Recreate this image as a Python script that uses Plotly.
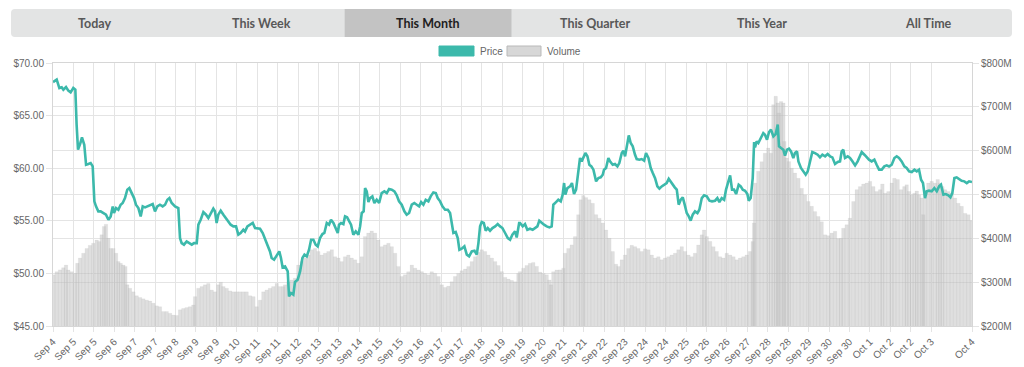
import plotly.graph_objects as go

# ---------------- data ----------------
tab_labels = ["Today", "This Week", "This Month", "This Quarter", "This Year", "All Time"]
selected_tab = "This Month"

tick_labels = ["Sep 4", "Sep 5", "Sep 5", "Sep 6", "Sep 7", "Sep 7", "Sep 8", "Sep 9", "Sep 9",
               "Sep 10", "Sep 11", "Sep 11", "Sep 12", "Sep 13", "Sep 13", "Sep 14", "Sep 15",
               "Sep 15", "Sep 16", "Sep 17", "Sep 17", "Sep 18", "Sep 19", "Sep 19", "Sep 20",
               "Sep 21", "Sep 21", "Sep 22", "Sep 23", "Sep 24", "Sep 24", "Sep 25", "Sep 26",
               "Sep 26", "Sep 27", "Sep 28", "Sep 28", "Sep 29", "Sep 30", "Sep 30", "Oct 1",
               "Oct 2", "Oct 2", "Oct 3", "Oct 4"]
tick_hours = [16 * i for i in range(44)] + [720]   # hours since Sep 4 00:00

# price: hours since start, USD
price_hours = [
    0, 2.9, 5.0, 6.8, 8.1, 10.2, 12.0, 13.8, 15.9, 17.5, 18.5, 19.6, 21.2, 22.7, 24.5, 25.9, 27.7,
    29.5, 31.1, 32.4, 33.7, 35.5, 37.3, 39.4, 41.5, 43.4, 45.2, 46.8, 47.8, 49.4, 51.2, 53.0, 54.6,
    56.4, 58.2, 59.8, 61.6, 63.5, 65.0, 66.9, 68.7, 70.3, 72.1, 73.9, 76.0, 78.1, 79.9, 81.7, 83.8,
    85.9, 87.8, 89.6, 91.2, 93.0, 95.6, 98.2, 99.5, 100.8, 102.6, 104.7, 106.8, 108.7, 110.5, 112.6,
    113.9, 115.7, 117.8, 119.9, 121.7, 123.5, 125.6, 126.9, 128.2, 129.5, 131.4, 133.5, 135.6, 137.4,
    139.2, 141.3, 143.4, 145.2, 147.0, 149.1, 150.4, 152.3, 154.4, 156.5, 158.3, 160.1, 162.2, 164.3,
    166.1, 167.9, 170.0, 171.3, 173.2, 175.3, 177.3, 178.6, 179.9,
    181.8, 183.9, 184.9, 186.5, 188.3, 189.6, 191.7, 193.6, 195.4, 197.0, 198.8, 200.6, 202.2, 204.0,
    205.8, 207.4, 209.2, 211.1, 212.6, 214.5, 216.3, 217.8, 219.7, 221.5, 223.1, 224.1, 225.7, 227.5,
    228.8, 230.4, 232.0, 233.5, 235.3, 237.2, 239.3, 240.6, 241.9, 243.4, 244.5, 245.8, 247.1, 248.4,
    250.2, 251.8, 253.6, 255.5, 257.5, 259.6, 261.5, 263.3, 265.4, 267.5, 269.3, 271.1, 273.2, 275.3,
    277.1, 279.0, 281.1, 283.1, 285.0, 286.8, 288.4, 290.2, 292.0, 294.1, 295.9, 298.0, 299.9, 301.4,
    303.3, 305.1, 307.2, 309.3, 311.1, 312.4, 313.7, 315.5, 317.1, 318.4, 320.2, 322.3, 324.2, 326.0,
    328.1, 330.2, 332.0, 333.3, 334.6, 335.9, 337.5, 339.0, 340.6, 342.4, 344.3, 346.4, 348.4, 350.3,
    352.1, 354.2, 356.3, 358.1, 359.9, 362.0, 363.3, 365.2,
    365.9, 368.0, 369.8, 371.6, 373.7, 375.8, 377.7, 379.5, 381.0, 382.9, 384.7, 386.8, 388.9, 390.7,
    392.0, 394.1, 395.9, 397.8, 399.3, 400.4, 401.4, 403.0, 405.1, 406.6, 408.2, 409.8, 411.6, 412.9,
    414.2, 415.5, 417.1, 418.7, 420.2, 421.8, 423.4, 425.5, 427.3, 429.1, 430.7, 431.7, 433.3, 435.1,
    436.4, 438.5, 440.3, 442.2, 443.7, 445.6, 446.9, 448.2, 449.5, 451.1, 452.6, 454.2, 456.0, 457.3,
    459.4, 461.2, 463.1, 464.6, 466.5, 468.3, 469.9, 471.7, 473.5, 475.1, 476.9, 478.7, 480.8, 482.4,
    484.0, 485.5, 487.1, 488.7, 490.2, 491.8, 493.4, 494.9, 496.5, 498.1, 499.6, 501.2, 503.0, 504.9,
    506.4, 508.3, 510.1, 512.2, 514.3, 516.3, 518.7, 520.5, 522.1, 523.9, 525.8, 527.3, 528.9, 530.5,
    532.0, 533.6, 535.2, 537.2, 538.8, 540.4, 542.2, 544.0, 545.1, 546.6, 548.2, 549.3,
    550.0, 551.3, 552.6, 554.7, 556.5, 557.8, 559.4, 561.0, 562.5, 564.4, 566.2, 567.8, 568.8, 570.4,
    572.2, 573.5, 575.1, 576.6, 578.2, 580.0, 581.3, 582.9, 584.0, 586.0, 587.9, 589.7, 591.3, 593.1,
    594.9, 597.0, 599.1, 600.9, 602.8, 604.9, 606.9, 608.8, 610.6, 612.7, 614.8, 616.6, 617.9, 619.2,
    620.5, 622.6, 624.4, 626.3, 628.4, 630.4, 632.3, 633.6, 635.7, 637.5, 639.3, 641.4, 643.5, 645.3,
    647.2, 649.3, 651.3, 653.2, 655.0, 657.1, 659.2, 661.0, 662.8, 664.9, 667.0, 668.8, 670.7, 672.8,
    674.9, 676.7, 678.5, 680.1, 681.6, 683.2, 684.5, 686.3, 688.4, 690.5, 692.4, 694.2, 695.7, 697.6,
    699.4, 701.5, 703.1, 704.6, 706.2, 708.0, 709.9, 711.9, 714.0, 715.9, 717.7, 720.0,
]
price = [
    68.19, 68.42, 67.62, 67.69, 67.46, 67.72, 67.37, 67.21, 67.62, 67.46, 64.14, 61.76, 62.30, 62.93,
    62.23, 60.33, 60.40, 60.49, 60.17, 56.85, 56.37, 55.90, 55.90, 55.74, 55.58, 55.10, 55.42, 56.37,
    55.74, 56.21, 56.05, 56.53, 56.69, 57.16, 57.96, 58.11, 57.64, 57.16, 56.53, 56.21, 55.42, 56.37,
    56.28, 56.37, 56.53, 56.59, 55.90, 56.37, 56.53, 56.37, 56.53, 57.00, 57.16, 56.69, 56.37, 56.21,
    53.36, 52.88, 52.73, 53.04, 52.88, 52.73, 52.88, 52.88, 54.63, 55.10, 55.83, 55.58, 55.26, 55.74,
    56.15, 55.90, 54.79, 55.58, 55.96, 55.58, 55.26, 54.94, 54.63, 54.47, 54.47, 53.68, 53.84, 54.15,
    53.99, 54.47, 54.63, 54.79, 54.31, 54.31, 54.25, 53.84, 53.20, 52.73, 52.09, 51.46, 51.30, 51.78,
    52.09, 51.46, 50.57,
    50.67, 50.19, 47.81, 48.13, 47.97, 49.18, 49.40, 50.19, 51.46, 51.78, 51.62, 52.25, 53.20, 53.20,
    52.73, 52.57, 53.36, 53.74, 53.84, 54.79, 54.63, 55.10, 54.79, 54.31, 53.84, 54.63, 54.79, 54.69,
    55.42, 55.33, 54.94, 54.63, 53.68, 53.99, 53.68, 54.47, 55.74, 55.90, 58.11, 57.80, 56.78, 57.16,
    57.32, 56.69, 57.00, 56.69, 57.64, 57.80, 57.64, 58.02, 57.96, 57.80, 57.42, 56.85, 56.53, 55.90,
    55.58, 55.74, 56.53, 56.69, 56.53, 56.37, 56.78, 56.53, 57.00, 56.85, 57.32, 57.70, 57.64, 57.16,
    56.85, 56.37, 56.05, 56.05, 55.74, 54.94, 53.84, 53.93, 53.36, 52.25, 52.35, 52.57, 51.78, 51.62,
    52.09, 52.16, 51.78, 52.88, 54.47, 54.88, 54.79, 54.06, 54.31, 54.06, 54.31, 54.47, 54.69, 54.47,
    54.31, 53.84, 53.36, 53.20, 53.68, 53.99, 53.42, 54.79,
    54.79, 54.47, 54.69, 54.15, 54.25, 54.15, 54.31, 54.47, 55.01, 54.79, 54.63, 54.47, 54.37, 54.47,
    56.53, 56.78, 57.00, 56.85, 57.48, 58.59, 57.48, 58.11, 58.27, 58.59, 57.54, 57.96, 59.54, 60.97,
    60.65, 61.03, 61.44, 61.13, 60.33, 60.17, 59.86, 58.75, 59.06, 59.13, 59.38, 59.86, 60.02, 60.97,
    60.65, 60.33, 60.40, 60.17, 60.49, 61.44, 61.66, 61.13, 61.92, 63.12, 62.39, 62.08, 61.28, 60.87,
    60.81, 60.87, 60.71, 61.44, 60.97, 60.02, 59.54, 59.06, 58.27, 58.05, 58.27, 58.43, 58.59, 59.00,
    58.68, 58.49, 58.18, 57.96, 56.53, 57.00, 57.23, 56.53, 55.74, 55.42, 55.01, 55.58, 55.90, 55.74,
    56.05, 57.16, 57.42, 57.32, 56.91, 56.85, 56.91, 57.16, 56.78, 57.16, 57.00, 57.96, 58.75, 59.32,
    57.96, 57.96, 57.54, 58.43, 58.27, 57.96, 57.86, 57.54, 56.91, 57.16, 59.06, 62.49,
    61.98, 62.55, 62.39, 62.87, 63.34, 63.19, 62.71, 63.44, 63.66, 63.03, 63.25, 64.14, 62.08, 61.92,
    61.76, 61.19, 61.76, 61.85, 61.60, 60.97, 61.44, 61.60, 60.65, 60.02, 59.70, 59.38, 59.70, 60.65,
    61.54, 61.44, 61.28, 61.03, 61.28, 61.13, 61.35, 61.13, 61.03, 60.40, 60.59, 60.65, 61.60, 61.76,
    60.97, 61.13, 60.97, 60.65, 60.27, 60.65, 61.13, 61.54, 61.28, 61.03, 60.81, 60.65, 60.81, 60.33,
    59.86, 59.86, 60.17, 60.27, 60.17, 60.33, 60.97, 61.13, 60.97, 60.65, 60.17, 60.02, 59.70, 59.64,
    59.86, 59.70, 59.86, 58.91, 58.59, 57.16, 57.80, 57.86, 57.80, 58.11, 57.80, 58.27, 58.43, 57.48,
    57.54, 57.42, 57.23, 57.64, 59.06, 59.13, 59.00, 58.81, 58.75, 58.59, 58.75, 58.68,
]

# volume: hours since start, millions of USD
volume_hours = [
    0.3, 2.9, 5.5, 8.1, 10.2, 12.0, 14.6, 17.2, 19.1, 21.2, 23.8, 26.4, 29.0, 31.6, 34.2, 36.3, 38.1,
    40.0, 41.5, 43.4, 45.2, 47.3, 49.4, 51.2, 53.0, 55.1, 56.7, 58.2, 60.3, 63.0, 65.6, 68.2, 70.8,
    73.4, 76.0, 78.6, 81.2, 83.8, 86.5, 89.1, 91.7, 94.3, 96.9, 99.5, 102.1, 104.7, 107.3, 110.0,
    111.3, 113.9, 116.5, 119.1, 121.7, 124.3, 126.9, 129.5, 131.4, 133.5, 136.1, 138.7, 141.3, 143.9,
    146.5, 149.1, 151.7, 154.4, 157.0, 159.6, 162.2, 164.8, 167.4, 170.0, 172.6, 175.3, 177.9, 180.5,
    181.8, 184.4, 187.0, 189.6, 192.2, 194.9, 197.5, 200.1, 202.7, 205.3, 207.9, 210.5, 213.1, 215.8,
    218.4, 221.0, 223.6, 226.2, 228.8, 231.4, 234.0, 236.7, 239.3, 241.9, 244.5, 247.1, 249.7, 252.3,
    254.9, 257.6, 260.2, 262.8, 265.4, 268.0, 270.6, 273.2, 275.8, 278.4, 281.1, 283.7, 286.3, 288.9,
    291.5, 294.1, 296.7, 299.4, 302.0, 304.6, 307.2, 309.8, 312.4, 315.0, 317.6, 320.2, 322.9, 325.5,
    328.1, 330.7, 333.3, 335.9, 338.5, 341.1, 343.8, 346.4, 349.0, 351.6, 354.2, 356.8, 359.4, 362.0,
    364.6,
    365.9, 368.5, 371.1, 373.7, 376.3, 379.0, 381.6, 384.2, 386.8, 388.9, 390.2, 392.0, 394.6, 397.2,
    399.9, 401.2, 403.8, 406.4, 409.0, 411.6, 413.4, 415.5, 417.6, 420.2, 422.8, 425.5, 428.1, 430.7,
    433.3, 435.9, 438.5, 441.1, 443.0, 445.6, 448.2, 450.8, 453.4, 456.0, 458.6, 461.2, 463.9, 466.5,
    469.1, 471.7, 474.3, 476.9, 479.5, 482.1, 484.7, 487.4, 490.0, 492.6, 495.2, 497.8, 500.4, 503.0,
    505.6, 508.3, 510.1, 512.2, 514.8, 517.4, 520.0, 522.6, 525.2, 527.8, 530.5, 533.1, 535.7, 538.3,
    540.9, 543.5, 546.1, 548.2, 549.3,
    550.0, 552.6, 555.2, 557.8, 560.4, 562.5, 564.4, 566.2, 567.8, 568.8, 570.4, 572.2, 573.0, 574.8,
    576.6, 578.7, 581.3, 584.0, 586.6, 589.2, 591.8, 594.4, 597.0, 599.6, 602.2, 604.9, 607.5, 610.1,
    612.7, 615.3, 617.4, 619.2, 621.8, 624.4, 627.1, 629.7, 632.3, 634.9, 637.5, 640.1, 642.7, 645.3,
    648.0, 649.8, 651.9, 654.5, 657.1, 659.2, 661.8, 664.4, 667.0, 668.8, 670.7, 672.8, 674.9, 676.7,
    678.5, 680.6, 681.9, 683.2, 685.8, 688.4, 691.0, 693.1, 695.0, 696.8, 698.9, 701.5, 704.1, 706.7,
    709.3, 711.9, 714.6, 717.2, 719.8,
]
volume_m = [
    317, 324, 328, 333, 339, 328, 324, 320, 343, 355, 366, 377, 384, 389, 396, 393, 408, 427, 432, 400,
    377, 377, 366, 347, 343, 339, 336, 294, 286, 278, 269, 265, 262, 259, 257, 252, 246, 244, 233, 233,
    229, 225, 224, 237, 240, 242, 244, 248, 267, 286, 290, 294, 297, 282, 278, 294, 300, 290, 286, 280,
    278, 278, 278, 278, 278, 269, 267, 244, 259, 278, 282, 286, 290, 297, 290, 290,
    294, 301, 305, 309, 339, 347, 355, 362, 374, 377, 370, 362, 366, 370, 374, 358, 355, 347, 358, 362,
    355, 351, 343, 358, 404, 412, 417, 412, 396, 381, 385, 389, 381, 366, 336, 313, 317, 324, 339, 332,
    328, 324, 320, 317, 324, 320, 313, 294, 288, 291, 301, 313, 320, 326, 330, 336, 347, 358, 368, 374,
    370, 362, 355, 347, 338, 324, 311, 307, 304, 301, 320,
    324, 332, 338, 343, 345, 336, 323, 320, 317, 305, 294, 324, 328, 328, 332, 366, 377, 385, 404, 454,
    488, 498, 493, 488, 480, 454, 446, 435, 419, 400, 370, 341, 336, 351, 362, 377, 384, 381, 377, 370,
    376, 374, 362, 355, 358, 351, 355, 358, 362, 366, 374, 381, 370, 362, 358, 366, 385, 408, 419, 404,
    393, 381, 370, 358, 355, 366, 362, 358, 351, 355, 358, 362, 370, 393, 435,
    526, 553, 575, 594, 606, 594, 705, 724, 709, 686, 712, 709, 621, 583, 575, 560, 549, 537, 514, 499,
    484, 473, 461, 450, 438, 408, 406, 412, 416, 399, 400, 423, 431, 446, 484, 511, 518, 524, 526, 530,
    518, 507, 511, 524, 503, 507, 526, 537, 534, 511, 518, 522, 507, 499, 503, 508, 499, 492, 454, 507,
    526, 530, 526, 534, 526, 518, 511, 507, 503, 492, 480, 473, 457, 454, 440,
]

# ---------------- styling ----------------
W, H = 1024, 367
ML, MR, MT, MB = 53, 52, 63, 41
TEAL = "#3cb9ab"
GRID = "#e4e4e4"
TICKFONT = dict(family="Liberation Sans, Arial, sans-serif", size=10, color="#666666")


def fx(px):
    return (px - ML) / (W - ML - MR)


def fy(py):
    return (H - MB - py) / (H - MT - MB)


def rrect(x0, y0, x1, y1, r):
    p = [
        f"M{fx(x0 + r)},{fy(y0)}", f"L{fx(x1 - r)},{fy(y0)}",
        f"Q{fx(x1)},{fy(y0)} {fx(x1)},{fy(y0 + r)}", f"L{fx(x1)},{fy(y1 - r)}",
        f"Q{fx(x1)},{fy(y1)} {fx(x1 - r)},{fy(y1)}", f"L{fx(x0 + r)},{fy(y1)}",
        f"Q{fx(x0)},{fy(y1)} {fx(x0)},{fy(y1 - r)}", f"L{fx(x0)},{fy(y0 + r)}",
        f"Q{fx(x0)},{fy(y0)} {fx(x0 + r)},{fy(y0)}", "Z",
    ]
    return " ".join(p)


fig = go.Figure()

fig.add_trace(go.Bar(
    x=volume_hours, y=volume_m, width=2.7, name="Volume",
    marker=dict(color="rgba(192,192,192,0.5)", line=dict(color="rgba(165,165,165,0.2)", width=0.4)),
    yaxis="y", hoverinfo="skip",
))
fig.add_trace(go.Scatter(
    x=price_hours, y=price, mode="lines", name="Price",
    line=dict(color=TEAL, width=2.6), yaxis="y2", hoverinfo="skip",
))

shapes = []
annotations = []

# tab bar
bar_x0, bar_x1, bar_y0, bar_y1 = 11, 1012, 9, 37
shapes.append(dict(type="path", xref="paper", yref="paper", path=rrect(bar_x0, bar_y0, bar_x1, bar_y1, 4),
                   fillcolor="#e3e4e4", line=dict(width=0), layer="below"))
tab_w = (bar_x1 - bar_x0) / len(tab_labels)
for i, lab in enumerate(tab_labels):
    cx = bar_x0 + tab_w * (i + 0.5)
    if lab == selected_tab:
        shapes.append(dict(type="rect", xref="paper", yref="paper",
                           x0=fx(bar_x0 + tab_w * i), x1=fx(bar_x0 + tab_w * (i + 1)),
                           y0=fy(bar_y1), y1=fy(bar_y0), fillcolor="#c3c3c3", line=dict(width=0),
                           layer="below"))
    annotations.append(dict(xref="paper", yref="paper", x=fx(cx), y=fy(23), text=lab, showarrow=False,
                            xanchor="center", yanchor="middle",
                            font=dict(family="Lato, sans-serif", size=12.5,
                                      color="#1e1e1e" if lab == selected_tab else "#585858",
                                      weight="bold")))

# legend
shapes.append(dict(type="rect", xref="paper", yref="paper", x0=fx(439), x1=fx(474), y0=fy(56), y1=fy(46),
                   fillcolor=TEAL, line=dict(color=TEAL, width=1)))
annotations.append(dict(xref="paper", yref="paper", x=fx(478), y=fy(51), text="Price", showarrow=False,
                        xanchor="left", yanchor="middle", font=TICKFONT))
shapes.append(dict(type="rect", xref="paper", yref="paper", x0=fx(507), x1=fx(541), y0=fy(56), y1=fy(46),
                   fillcolor="#d7d7d7", line=dict(color="#b9b9b9", width=1)))
annotations.append(dict(xref="paper", yref="paper", x=fx(545), y=fy(51), text="Volume", showarrow=False,
                        xanchor="left", yanchor="middle", font=TICKFONT))

fig.update_layout(
    width=W, height=H, autosize=False,
    margin=dict(l=ML, r=MR, t=MT, b=MB, pad=0, autoexpand=False),
    paper_bgcolor="white", plot_bgcolor="white",
    showlegend=False, hovermode=False,
    shapes=shapes, annotations=annotations,
    xaxis=dict(
        range=[0, 720], tickmode="array", tickvals=tick_hours, ticktext=tick_labels,
        tickangle=-45, tickfont=TICKFONT, showgrid=True, gridcolor=GRID, gridwidth=1,
        ticks="outside", ticklen=5, tickcolor=GRID, showline=True, linecolor="#d6d6d6",
        mirror=True, zeroline=False, automargin=False, fixedrange=True,
    ),
    yaxis=dict(
        side="right", range=[200, 800], tickmode="array", tickvals=[200, 300, 400, 500, 600, 700, 800],
        ticktext=["$200M", "$300M", "$400M", "$500M", "$600M", "$700M", "$800M"],
        tickfont=TICKFONT, showgrid=True, gridcolor=GRID, ticks="outside", ticklen=6, tickcolor=GRID,
        showline=True, linecolor="#d6d6d6", zeroline=False, automargin=False, fixedrange=True,
    ),
    yaxis2=dict(
        side="left", overlaying="y", range=[45, 70], tickmode="array",
        tickvals=[45, 50, 55, 60, 65, 70],
        ticktext=["$45.00", "$50.00", "$55.00", "$60.00", "$65.00", "$70.00"],
        tickfont=TICKFONT, showgrid=True, gridcolor=GRID, ticks="outside", ticklen=6, tickcolor=GRID,
        showline=True, linecolor="#d6d6d6", zeroline=False, automargin=False, fixedrange=True,
    ),
)

fig.write_html(
    "out.html",
    config={"displayModeBar": False, "staticPlot": False},
    post_script="document.body.style.margin='0px';document.body.style.overflow='hidden';",
)
